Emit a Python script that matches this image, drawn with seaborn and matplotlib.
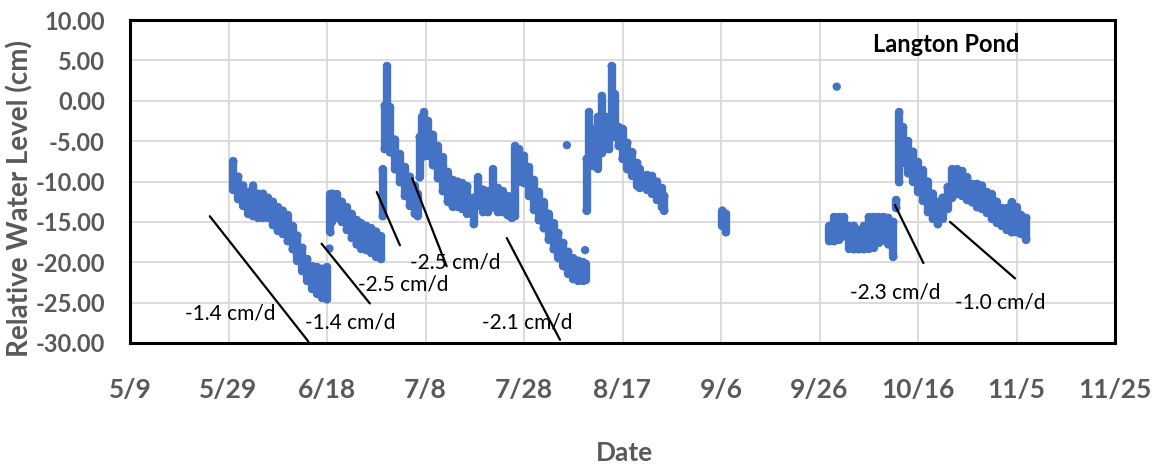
import numpy as np
import pandas as pd
import matplotlib
matplotlib.use("Agg")
import matplotlib.pyplot as plt
from matplotlib import font_manager
import seaborn as sns

# ---------------- data ----------------
start_date = "2019-05-09"
end_date = "2019-11-25"
tick_labels = ["5/9", "5/29", "6/18", "7/8", "7/28", "8/17", "9/6",
               "9/26", "10/16", "11/5", "11/25"]
y_ticks = [10, 5, 0, -5, -10, -15, -20, -25, -30]

# days since 5/9, with the upper and lower edge of the hourly readings
day = [21, 22, 23, 24, 25, 26, 27, 28, 29, 30, 31, 32, 33, 34, 35, 36, 37, 38, 39, 40,
       40.7, 41, 42, 43, 44, 45, 46, 47, 48, 49, 50, 51,
       51.3, 51.7, 52.2, 52.8, 53.8, 54.8, 55.8, 56.8, 57.8, 58.4, 58.8, 59.3, 59.7,
       60.5, 61.5, 62.5, 63.5, 64.5, 65.5, 66.5, 67.5, 68.5, 69.8, 70.7, 71.7, 72.7,
       73.7, 74.7, 75.7, 76.7, 77.5,
       78.2, 79, 80, 81, 82, 83, 84, 85, 86, 87, 88, 89, 90, 91, 92, 92.5,
       92.7, 93.2, 94, 95, 95.8, 96.6, 97.3, 97.8, 98.4, 99.2, 100, 101, 102, 103, 103.5,
       105, 106, 107, 108, 108.5,
       120.3, 121,
       142, 143, 144, 145, 146, 147, 148, 149, 150, 151, 152, 153, 154, 155,
       155.6, 156.2, 157, 158, 159, 160, 161, 162, 163, 164, 165, 166, 167, 168, 169,
       170, 171, 172, 173, 174, 175, 176, 177, 178, 179, 180, 181, 182]
level_hi = [-7.5, -9.4, -10.5, -11.3, -10.5, -11.5, -11.5, -12.0, -12.5, -13.2, -13.6, -14.2,
            -15.5, -16.7, -18.2, -19.6, -20.5, -20.6, -20.8, -20.6,
            -11.6, -11.5, -11.6, -12.5, -13.2, -14.0, -14.8, -15.2, -15.5, -15.8, -16.2, -16.8,
            -8.5, -0.6, 4.3, -0.8, -4.8, -6.6, -8.2, -9.4, -10.5, -11.5, -4.5, -2.0, -1.4,
            -2.5, -4.2, -5.6, -7.0, -8.8, -9.8, -10.0, -10.2, -10.6, -12.0, -9.5, -11.0, -11.2,
            -8.5, -10.8, -11.2, -11.8, -12.0,
            -5.6, -6.0, -6.8, -8.2, -9.8, -11.3, -12.6, -14.0, -15.2, -16.4, -17.6, -18.7,
            -19.5, -19.8, -20.0, -20.2,
            -7.2, -1.4, -3.5, -2.0, 0.6, -2.0, -2.5, 4.3, 0.8, -3.3, -3.5, -5.2, -6.4, -7.7, -8.5,
            -9.2, -9.3, -10.0, -10.8, -11.8,
            -13.6, -14.0,
            -15.5, -14.4, -14.4, -14.4, -15.5, -15.5, -16.0, -15.5, -14.4, -14.4, -14.4, -14.4,
            -14.5, -15.0,
            -12.3, -1.4, -3.3, -5.0, -6.3, -7.6, -8.6, -10.0, -11.5, -12.6, -12.0, -10.7, -8.5,
            -8.5, -8.7, -9.5, -10.3, -10.3, -10.5, -11.3, -11.6, -12.5, -13.3, -13.3, -12.6,
            -13.2, -14.2, -14.5]
level_lo = [-11.0, -12.2, -13.0, -14.0, -14.3, -14.5, -14.5, -14.5, -15.4, -16.1, -16.5, -17.4,
            -18.4, -19.8, -21.1, -22.3, -23.3, -23.9, -24.4, -24.6,
            -16.3, -15.0, -14.5, -15.0, -16.0, -17.0, -17.8, -18.3, -18.5, -18.8, -19.3, -19.6,
            -14.3, -6.0, -5.6, -6.4, -8.5, -10.1, -11.8, -13.0, -14.0, -14.3, -9.5, -7.0, -6.4,
            -6.8, -8.0, -9.6, -11.2, -12.5, -13.1, -13.1, -13.4, -14.0, -15.3, -13.0, -13.8,
            -13.8, -13.2, -13.8, -13.8, -14.2, -14.5,
            -14.3, -10.0, -10.2, -11.8, -13.5, -14.8, -15.8, -17.2, -18.4, -19.5, -20.5, -21.4,
            -22.1, -22.3, -22.3, -22.2,
            -13.6, -7.7, -8.1, -8.4, -6.5, -6.0, -6.0, -4.4, -4.5, -5.6, -7.2, -8.5, -9.3, -10.5,
            -10.8, -11.0, -11.5, -12.3, -13.2, -13.6,
            -15.5, -16.3,
            -17.4, -17.4, -17.2, -16.8, -18.3, -18.4, -18.4, -18.4, -18.3, -18.2, -17.6, -17.3,
            -17.8, -19.3,
            -13.3, -10.1, -7.7, -9.0, -10.0, -11.3, -12.4, -13.8, -14.6, -15.3, -14.6, -13.4,
            -12.0, -11.5, -11.8, -12.3, -12.6, -13.2, -13.4, -13.9, -14.6, -15.1, -15.5, -16.0,
            -16.3, -16.3, -16.5, -17.2]
single_day = [40.5, 88.7, 92.4, 143.5]
single_level = [-18.3, -5.5, -18.5, 1.75]

# recession-rate annotations
rate_text = ["-1.4 cm/d", "-1.4 cm/d", "-2.5 cm/d", "-2.5 cm/d", "-2.1 cm/d",
             "-2.3 cm/d", "-1.0 cm/d"]
rate_text_day = [20.3, 44.7, 55.4, 66.0, 80.6, 155.3, 176.6]
rate_text_level = [-26.3, -27.4, -22.8, -20.0, -27.5, -23.8, -25.0]
rate_line_day0 = [16.2, 38.9, 50.1, 57.3, 76.5, 155.3, 166.5]
rate_line_lvl0 = [-14.3, -17.7, -11.3, -9.6, -17.0, -12.9, -15.0]
rate_line_day1 = [36.2, 48.7, 54.8, 64.3, 87.3, 161.1, 179.7]
rate_line_lvl1 = [-29.8, -25.1, -17.9, -20.5, -29.6, -20.1, -22.0]

title_text = "Langton Pond"
x_title = "Date"
y_title = "Relative Water Level (cm)"

# ---------------- styling ----------------
sns.set_theme(style="white")
available = {f.name for f in font_manager.fontManager.ttflist}
fam = [f for f in ["Liberation Sans Narrow", "Lato", "DejaVu Sans"] if f in available]
plt.rcParams["font.family"] = fam + ["DejaVu Sans"]
plt.rcParams["axes.unicode_minus"] = False

BLUE = "#4472C4"
GREY = "#595959"

base = pd.Timestamp(start_date)
to_date = lambda d: base + pd.to_timedelta(np.asarray(d, dtype=float), unit="D")

dates = to_date(day)
pts = pd.DataFrame({
    "date": np.concatenate([dates, dates, to_date(single_day)]),
    "level": np.concatenate([level_hi, level_lo, single_level]),
})

fig = plt.figure(figsize=(11.55, 4.66), dpi=100)
ax = fig.add_axes([130 / 1155, 123 / 466, 985 / 1155, 323 / 466])

# vertical spread of the readings within each day
vl = ax.vlines(dates, level_lo, level_hi, colors=BLUE, linewidth=6, zorder=3)
vl.set_capstyle("round")
sns.scatterplot(data=pts, x="date", y="level", ax=ax, color=BLUE, s=36,
                edgecolor="none", linewidth=0, zorder=3, legend=False)

# rate lines and labels
for i in range(len(rate_text)):
    ax.plot(to_date([rate_line_day0[i], rate_line_day1[i]]),
            [rate_line_lvl0[i], rate_line_lvl1[i]], color="black", lw=1.6, zorder=4)
    ax.text(to_date([rate_text_day[i]])[0], rate_text_level[i], rate_text[i],
            ha="center", va="center", fontsize=15, color="black", zorder=5)

ax.text(0.829, 0.923, title_text, transform=ax.transAxes, ha="center", va="center",
        fontsize=17, fontweight="bold", color="black")

tick_pos = pd.to_datetime(["2019/" + t for t in tick_labels], format="%Y/%m/%d")
ax.set_xlim(pd.Timestamp(start_date), pd.Timestamp(end_date))
ax.set_ylim(-30, 10)
ax.set_xticks(tick_pos)
ax.set_xticklabels(tick_labels)
ax.set_yticks(y_ticks)
ax.set_yticklabels([f"{v:.2f}" for v in y_ticks])
ax.tick_params(axis="both", length=0, labelcolor=GREY)
ax.tick_params(axis="x", pad=25, labelsize=19)
ax.tick_params(axis="y", pad=18, labelsize=17)
for lab in ax.get_xticklabels() + ax.get_yticklabels():
    lab.set_fontweight("bold")

ax.grid(True, color="#d9d9d9", linewidth=1.3, zorder=0)
ax.set_axisbelow(True)
for sp in ax.spines.values():
    sp.set_color("black")
    sp.set_linewidth(2.2)
    sp.set_visible(True)

ax.set_xlabel(x_title, fontsize=19, fontweight="bold", color=GREY)
ax.set_ylabel(y_title, fontsize=20, fontweight="bold", color=GREY)
ax.xaxis.set_label_coords(0.5025, -0.303)
ax.yaxis.set_label_coords(-0.098, 0.446)

fig.savefig("out.png", dpi=100)
